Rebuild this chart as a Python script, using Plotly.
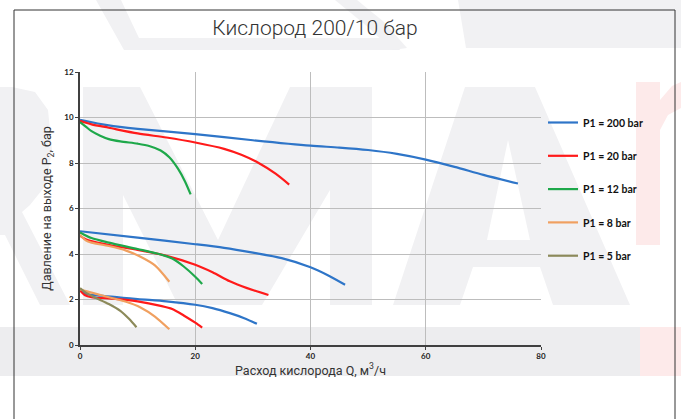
import plotly.graph_objects as go

# ---- data (Q in m3/h, P2 in bar); three curves per series (P2 set ~10, ~5, ~2.4)
series_names = ["P1 = 200 bar", "P1 = 20 bar", "P1 = 12 bar", "P1 = 8 bar", "P1 = 5 bar"]
series_colors = ["#2e75c8", "#ff1a1a", "#1ea84a", "#f0a060", "#8c8a5a"]

p200_hi_q = [0, 5, 10, 20, 30, 40, 45, 50, 55, 60, 65, 70, 76]
p200_hi_p = [9.9, 9.65, 9.5, 9.27, 9.0, 8.76, 8.68, 8.57, 8.4, 8.15, 7.83, 7.48, 7.1]
p200_mid_q = [0, 10, 20, 25, 30, 35, 40, 43, 46]
p200_mid_p = [5.0, 4.72, 4.43, 4.27, 4.06, 3.82, 3.42, 3.07, 2.65]
p200_lo_q = [0, 1, 3, 10, 15, 20, 23, 26, 28.5, 30.7]
p200_lo_p = [2.45, 2.25, 2.18, 2.02, 1.92, 1.77, 1.62, 1.4, 1.18, 0.93]

p20_hi_q = [0, 2, 5, 10, 15, 20, 25, 28, 31, 34, 36.3]
p20_hi_p = [9.85, 9.7, 9.55, 9.3, 9.12, 8.9, 8.62, 8.36, 8.0, 7.52, 7.05]
p20_mid_q = [0, 1, 3, 6, 10, 15, 20, 23, 26, 29, 32.7]
p20_mid_p = [4.8, 4.65, 4.5, 4.35, 4.18, 3.92, 3.53, 3.2, 2.8, 2.5, 2.2]
p20_lo_q = [0, 0.8, 2, 5, 10, 14, 16, 18, 20, 21.2]
p20_lo_p = [2.4, 2.2, 2.1, 2.05, 1.92, 1.72, 1.58, 1.3, 0.98, 0.76]

p12_hi_q = [0, 1, 2, 3.5, 5, 7, 10, 12, 14, 15.5, 17, 18.2, 19.2]
p12_hi_p = [9.8, 9.6, 9.4, 9.2, 9.05, 8.95, 8.85, 8.75, 8.55, 8.25, 7.75, 7.2, 6.62]
p12_mid_q = [0, 2, 5, 10, 14, 16, 18, 20, 21.2]
p12_mid_p = [4.95, 4.7, 4.5, 4.22, 3.98, 3.8, 3.45, 3.0, 2.68]

p8_mid_q = [0, 1, 2, 5, 8, 10.5, 13, 15.5]
p8_mid_p = [4.85, 4.6, 4.5, 4.35, 4.15, 3.88, 3.5, 2.78]
p8_lo_q = [0, 2, 5, 8, 10.5, 13, 15.5]
p8_lo_p = [2.45, 2.3, 2.1, 1.9, 1.65, 1.25, 0.69]

p5_lo_q = [0, 1, 2.5, 5, 7, 8.5, 9.8]
p5_lo_p = [2.5, 2.3, 2.1, 1.8, 1.5, 1.15, 0.78]

series_curves = [
    [(p200_hi_q, p200_hi_p), (p200_mid_q, p200_mid_p), (p200_lo_q, p200_lo_p)],
    [(p20_hi_q, p20_hi_p), (p20_mid_q, p20_mid_p), (p20_lo_q, p20_lo_p)],
    [(p12_hi_q, p12_hi_p), (p12_mid_q, p12_mid_p)],
    [(p8_mid_q, p8_mid_p), (p8_lo_q, p8_lo_p)],
    [(p5_lo_q, p5_lo_p)],
]

x_ticks = [0, 20, 40, 60, 80]
y_ticks = [0, 2, 4, 6, 8, 10, 12]

W, H = 681, 419
L, R, T, B = 80, 140, 72, 74   # plot area: x 80..541, y 72..345
fig = go.Figure()

for name, color, curves in zip(series_names, series_colors, series_curves):
    for i, (q, p) in enumerate(curves):
        fig.add_trace(go.Scatter(
            x=q, y=p, mode="lines", name=name,
            line=dict(color=color, width=2.2, shape="spline", smoothing=0.8),
            legendgroup=name, showlegend=(i == 0),
        ))

pw, ph = W - L - R, H - T - B


def px(x):
    return (x - L) / pw


def py(y):
    return (H - B - y) / ph


def poly(points, color):
    # background decoration (faint watermark) in page pixel coordinates
    d = "M " + " L ".join(f"{px(a):.5f},{py(b):.5f}" for a, b in points) + " Z"
    return dict(type="path", xref="paper", yref="paper", layer="below", path=d,
                fillcolor=color, line=dict(width=0))


wm = "#ededef"
wm2 = "#f1f1f3"
pink = "#fdeaea"
shapes = [
    # bottom band
    poly([(0, 327), (640, 327), (640, 376), (0, 376)], wm),
    poly([(640, 327), (681, 327), (681, 376), (640, 376)], pink),
    # top fragments
    poly([(96, 0), (121, 0), (139, 38), (395, 38), (400, 50), (124, 50)], wm2),
    poly([(335, 0), (357, 0), (384, 22), (407, 48), (392, 50), (368, 27)], wm2),
    poly([(458, 0), (681, 0), (681, 48), (466, 48)], wm2),
    # R
    poly([(0, 87), (12, 87), (35, 92), (48, 110), (52, 150), (46, 185), (30, 205),
          (22, 212), (70, 305), (40, 305), (5, 235), (0, 235)], wm2),
    # M
    poly([(83, 305), (83, 87), (140, 87), (218, 240), (290, 87), (372, 87), (372, 305),
          (330, 305), (330, 190), (262, 305), (178, 305), (123, 195), (123, 305)], wm2),
    # A
    poly([(393, 305), (465, 87), (535, 87), (630, 305), (553, 305), (540, 267),
          (473, 267), (460, 305)], wm2),
    poly([(508, 140), (530, 240), (487, 240)], "white"),
    # pink r
    poly([(636, 82), (660, 82), (660, 100), (672, 86), (681, 82), (681, 108),
          (668, 115), (660, 130), (660, 245), (636, 245)], pink),
    # outer frame
    dict(type="rect", xref="paper", yref="paper", layer="below",
         x0=px(14), x1=px(675), y0=py(430), y1=py(10),
         fillcolor="rgba(0,0,0,0)", line=dict(color="#333333", width=1)),
]

fig.update_layout(
    width=W, height=H,
    margin=dict(l=L, r=R, t=T, b=B, autoexpand=False),
    paper_bgcolor="white", plot_bgcolor="rgba(0,0,0,0)",
    shapes=shapes,
    title=dict(text="Кислород 200/10 бар", x=315 / W, xanchor="center",
               y=1 - 28 / H, yanchor="middle",
               font=dict(family="Roboto", size=21, color="#333333", weight=300)),
    xaxis=dict(range=[0, 80], tickvals=x_ticks, automargin=False,
               showgrid=True, gridcolor="#bdbdbd", gridwidth=1,
               showline=True, linecolor="#404040", linewidth=1.5,
               ticks="outside", ticklen=3, tickcolor="#404040",
               tickfont=dict(family="Lato", size=8, color="#222222", weight="bold"),
               zeroline=False,
               title=dict(text="Расход кислорода Q, м<sup>3</sup>/ч", standoff=0,
                          font=dict(family="Roboto", size=12.5, color="#333333"))),
    yaxis=dict(range=[0, 12], tickvals=y_ticks, automargin=False,
               showgrid=True, gridcolor="#bdbdbd", gridwidth=1,
               showline=True, linecolor="#404040", linewidth=1.5,
               ticks="outside", ticklen=3, tickcolor="#404040",
               tickfont=dict(family="Lato", size=8, color="#222222", weight="bold"),
               zeroline=False,
               title=dict(text="Давление на выходе P<sub>2</sub>, бар", standoff=10,
                          font=dict(family="Roboto", size=12.5, color="#333333"))),
    legend=dict(x=px(543), xanchor="left", y=py(108), yanchor="top",
                bgcolor="rgba(0,0,0,0)", tracegroupgap=14.3, itemwidth=30,
                font=dict(family="Lato", size=10.5, color="#111111", weight="bold")),
)

fig.write_html("out.html", config={"displayModeBar": False},
               post_script="document.body.style.margin='0';document.body.style.overflow='hidden';")
